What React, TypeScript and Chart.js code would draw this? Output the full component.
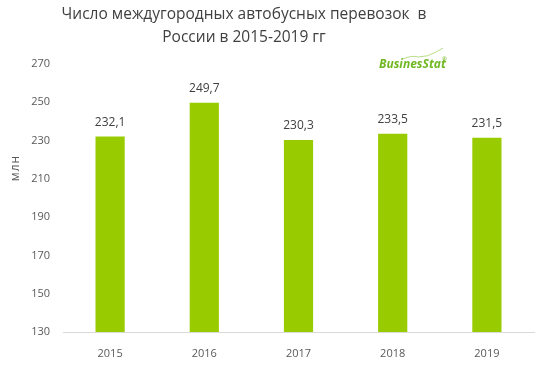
import React, { useEffect, useRef } from "react";
import { Chart, registerables } from "chart.js";

Chart.register(...registerables);

const years = ["2015", "2016", "2017", "2018", "2019"];
const values = [232.1, 249.7, 230.3, 233.5, 231.5];
const valueLabels = ["232,1", "249,7", "230,3", "233,5", "231,5"];
const titleLines = ["Число междугородных автобусных перевозок  в", "России в 2015-2019 гг"];
const yAxisTitle = "млн";
const yMin = 130;
const yMax = 270;
const yStep = 20;

const FONT = "'Open Sans', 'Noto Sans', sans-serif";

const overlay = {
  id: "overlay",
  afterDatasetsDraw(chart: any) {
    const ctx = chart.ctx;
    ctx.save();
    // value labels
    const meta = chart.getDatasetMeta(0);
    ctx.font = `12px ${FONT}`;
    ctx.fillStyle = "#404040";
    ctx.textAlign = "center";
    ctx.textBaseline = "middle";
    meta.data.forEach((bar: any, i: number) => {
      ctx.fillText(valueLabels[i], bar.x, bar.y - 14);
    });
    // title
    ctx.font = `15.5px ${FONT}`;
    ctx.fillStyle = "#404040";
    ctx.fillText(titleLines[0], 244, 15);
    ctx.fillText(titleLines[1], 244, 38);
    // y axis title
    ctx.save();
    ctx.translate(16, 168);
    ctx.rotate(-Math.PI / 2);
    ctx.font = `12px ${FONT}`;
    ctx.fillStyle = "#595959";
    (ctx as any).letterSpacing = "1px";
    ctx.fillText(yAxisTitle, 0, 0);
    ctx.restore();
    // logo
    ctx.strokeStyle = "#a6d36a";
    ctx.lineWidth = 0.8;
    ctx.beginPath();
    ctx.moveTo(403, 59);
    ctx.quadraticCurveTo(412, 55, 418, 57);
    ctx.quadraticCurveTo(428, 57, 436, 52);
    ctx.lineTo(443, 48);
    ctx.stroke();
    ctx.font = `italic bold 12px ${FONT}`;
    ctx.fillStyle = "#6fb822";
    ctx.textAlign = "left";
    ctx.textBaseline = "alphabetic";
    ctx.fillText("BusinesStat", 379, 68);
    ctx.font = `6px ${FONT}`;
    ctx.fillText("®", 442, 61);
    ctx.restore();
  },
};

export default function App() {
  const ref = useRef<HTMLCanvasElement>(null);
  useEffect(() => {
    const chart = new Chart(ref.current!, {
      type: "bar",
      data: {
        labels: years,
        datasets: [
          {
            data: values,
            backgroundColor: "#99cc00",
            barPercentage: 0.31,
            categoryPercentage: 1,
          },
        ],
      },
      options: {
        animation: false,
        responsive: false,
        maintainAspectRatio: false,
        layout: { padding: { top: 64, right: 11, left: 0, bottom: 0 } },
        plugins: { legend: { display: false }, tooltip: { enabled: false }, title: { display: false } },
        scales: {
          x: {
            grid: { display: false },
            border: { display: true, color: "#d9d9d9", width: 1 },
            ticks: { color: "#595959", font: { family: FONT, size: 11 }, padding: 7 },
            afterFit: (s: any) => {
              s.height = 39;
            },
          },
          y: {
            min: yMin,
            max: yMax,
            grid: { display: false, drawTicks: false },
            border: { display: false },
            ticks: { stepSize: yStep, color: "#595959", font: { family: FONT, size: 11 }, padding: 13 },
            afterFit: (s: any) => {
              s.width = 63;
            },
          },
        },
      },
      plugins: [overlay],
    });
    return () => chart.destroy();
  }, []);
  return (
    <div style={{ position: "fixed", left: 0, top: 0, width: 545, height: 371, background: "#fff" }}>
      <canvas ref={ref} width={545} height={371} />
    </div>
  );
}
